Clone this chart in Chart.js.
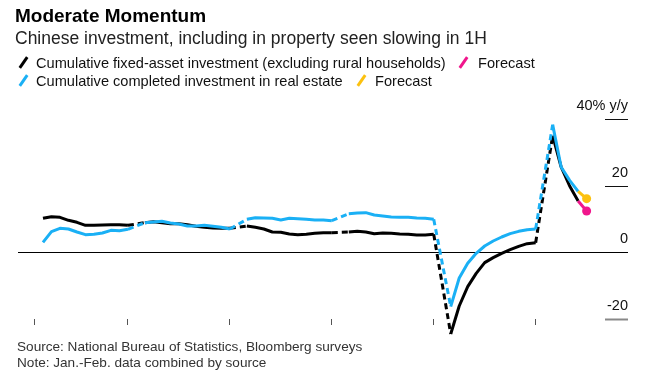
<!DOCTYPE html>
<html>
<head>
<meta charset="utf-8">
<script src="https://cdn.jsdelivr.net/npm/chart.js@4.4.1/dist/chart.umd.min.js"></script>
<style>
  body { margin: 0; background: #fff; font-family: "Liberation Sans", Arial, sans-serif; }
  #wrap { position: relative; width: 649px; height: 386px; overflow: hidden; }
  #ar { position: absolute; left: 0; top: 0; }
  .txt { position: absolute; white-space: nowrap; color: #000; }
  .title { left: 15px; top: 5px; font-size: 19px; font-weight: bold; }
  .sub { left: 15px; top: 28px; font-size: 17.5px; color: #222; }
  .leg { font-size: 14.6px; color: #111; }
  .icon { position: absolute; width: 3px; height: 13px; transform: rotate(35deg); }
  .foot { left: 17px; font-size: 13.6px; color: #333; }
</style>
</head>
<body>
<div id="wrap">
  <canvas id="ar" width="649" height="386"></canvas>
  <div class="txt title">Moderate Momentum</div>
  <div class="txt sub">Chinese investment, including in property seen slowing in 1H</div>

  <span class="icon" style="left:22px;top:56px;background:#000"></span>
  <div class="txt leg" style="left:36px;top:55px">Cumulative fixed-asset investment (excluding rural households)</div>
  <span class="icon" style="left:462px;top:56px;background:#f0168c"></span>
  <div class="txt leg" style="left:478px;top:55px">Forecast</div>

  <span class="icon" style="left:22px;top:74px;background:#1ab0f5"></span>
  <div class="txt leg" style="left:36px;top:73px">Cumulative completed investment in real estate</div>
  <span class="icon" style="left:360px;top:74px;background:#fcc10f"></span>
  <div class="txt leg" style="left:375px;top:73px">Forecast</div>

  <div class="txt foot" style="top:339px">Source: National Bureau of Statistics, Bloomberg surveys</div>
  <div class="txt foot" style="top:355px">Note: Jan.-Feb. data combined by source</div>
</div>
<script>
// months (Jan-Feb combined, so no January)
const months = [
  '2016-02','2016-03','2016-04','2016-05','2016-06','2016-07','2016-08','2016-09','2016-10','2016-11','2016-12',
  '2017-02','2017-03','2017-04','2017-05','2017-06','2017-07','2017-08','2017-09','2017-10','2017-11','2017-12',
  '2018-02','2018-03','2018-04','2018-05','2018-06','2018-07','2018-08','2018-09','2018-10','2018-11','2018-12',
  '2019-02','2019-03','2019-04','2019-05','2019-06','2019-07','2019-08','2019-09','2019-10','2019-11','2019-12',
  '2020-02','2020-03','2020-04','2020-05','2020-06','2020-07','2020-08','2020-09','2020-10','2020-11','2020-12',
  '2021-02','2021-03','2021-04','2021-05'
];
const fixedAsset = [
  10.2, 10.7, 10.5, 9.6, 9.0, 8.1, 8.1, 8.2, 8.3, 8.3, 8.1,
  8.9, 9.2, 8.9, 8.6, 8.6, 8.3, 7.8, 7.5, 7.3, 7.2, 7.2,
  7.9, 7.5, 7.0, 6.1, 6.0, 5.5, 5.3, 5.4, 5.7, 5.9, 5.9,
  6.1, 6.3, 6.1, 5.6, 5.8, 5.7, 5.5, 5.4, 5.2, 5.2, 5.4,
  -24.5, -16.1, -10.3, -6.3, -3.1, -1.6, -0.3, 0.8, 1.8, 2.6, 2.9,
  35.0, 25.6, 19.9, 15.4
];
const realEstate = [
  3.0, 6.2, 7.2, 7.0, 6.1, 5.3, 5.4, 5.8, 6.6, 6.5, 6.9,
  8.9, 9.1, 9.3, 8.8, 8.5, 7.9, 7.9, 8.1, 7.8, 7.5, 7.0,
  9.9, 10.4, 10.3, 10.2, 9.7, 10.2, 10.1, 9.9, 9.7, 9.7, 9.5,
  11.6, 11.8, 11.9, 11.2, 10.9, 10.6, 10.5, 10.5, 10.3, 10.2, 9.9,
  -16.3, -7.7, -3.3, -0.3, 1.9, 3.4, 4.6, 5.6, 6.3, 6.8, 7.0,
  38.3, 25.6, 21.6, 18.3
];
const forecastMonths = ['2021-05', '2021-06'];
const fixedAssetForecast = [15.4, 12.4];
const realEstateForecast = [18.3, 16.1];

const yTicks = [-20, 0, 20, 40];
const yTickLabels = ['-20', '0', '20', '40% y/y'];
const xTickMonths = ['2016-01', '2016-12', '2017-12', '2018-12', '2019-12', '2020-12'];

// month-end position, counted in months from start of 2016
function monthIndex(s) {
  const [y, m] = s.split('-').map(Number);
  return (y - 2016) * 12 + m;
}
const toPoints = (ms, vals) => vals.map((v, i) => ({ x: monthIndex(ms[i]), y: v }));

// Dec -> Feb segments are dashed
const gapDash = c => months[c.p1DataIndex].endsWith('-02') ? [6, 4] : undefined;

const shortLines = {
  id: 'shortLines',
  afterDraw(chart) {
    const y = chart.scales.y, area = chart.chartArea, g = chart.ctx;
    g.save();
    yTicks.forEach(v => {
      if (v === 0) return;
      const py = Math.round(y.getPixelForValue(v)) + 0.5;
      g.strokeStyle = v < 0 ? '#888' : '#111';
      g.lineWidth = v < 0 ? 2 : 1;
      g.beginPath();
      g.moveTo(area.right - 23, py);
      g.lineTo(area.right, py);
      g.stroke();
    });
    g.restore();
  }
};

const ctx = document.getElementById('ar').getContext('2d');
const myChart = new Chart(ctx, {
  type: 'line',
  data: {
    datasets: [
      {
        label: 'Fixed-asset forecast',
        data: toPoints(forecastMonths, fixedAssetForecast),
        borderColor: '#f0168c', backgroundColor: '#f0168c',
        borderWidth: 3, pointRadius: [0, 4.5], pointBorderWidth: 0,
        clip: false, order: 0
      },
      {
        label: 'Real estate forecast',
        data: toPoints(forecastMonths, realEstateForecast),
        borderColor: '#fcc10f', backgroundColor: '#fcc10f',
        borderWidth: 3, pointRadius: [0, 4.5], pointBorderWidth: 0,
        clip: false, order: 0
      },
      {
        label: 'Cumulative completed investment in real estate',
        data: toPoints(months, realEstate),
        borderColor: '#1ab0f5', borderWidth: 3, pointRadius: 0,
        segment: { borderDash: gapDash },
        clip: false, order: 1
      },
      {
        label: 'Cumulative fixed-asset investment (excluding rural households)',
        data: toPoints(months, fixedAsset),
        borderColor: '#000', borderWidth: 3, pointRadius: 0,
        segment: { borderDash: gapDash },
        clip: false, order: 2
      }
    ]
  },
  options: {
    responsive: false,
    animation: false,
    events: [],
    layout: { padding: { left: 18, right: 21, top: 119, bottom: 59 } },
    plugins: { legend: { display: false }, tooltip: { enabled: false } },
    elements: { line: { tension: 0, borderJoinStyle: 'round' } },
    scales: {
      x: {
        type: 'linear',
        min: -0.94, max: 70.87,
        afterFit: s => { s.height = 8; },
        afterBuildTicks: s => { s.ticks = xTickMonths.map(m => ({ value: monthIndex(m) })); },
        border: { display: false },
        grid: { drawOnChartArea: false, drawTicks: true, tickLength: 6, color: '#555', lineWidth: 1 },
        ticks: { display: false }
      },
      y: {
        position: 'right',
        min: -20, max: 40,
        afterFit: s => { s.width = 0; },
        afterBuildTicks: s => { s.ticks = yTicks.map(v => ({ value: v })); },
        border: { display: false },
        grid: {
          drawTicks: false,
          color: c => c.tick && c.tick.value === 0 ? '#000' : 'rgba(0,0,0,0)',
          lineWidth: 1
        },
        ticks: {
          mirror: true, padding: 0, labelOffset: -13,
          color: '#111',
          font: { family: '"Liberation Sans", Arial, sans-serif', size: 14.5 },
          callback: v => yTickLabels[yTicks.indexOf(v)]
        }
      }
    }
  },
  plugins: [shortLines]
});

myChart.update();
</script>
</body>
</html>
